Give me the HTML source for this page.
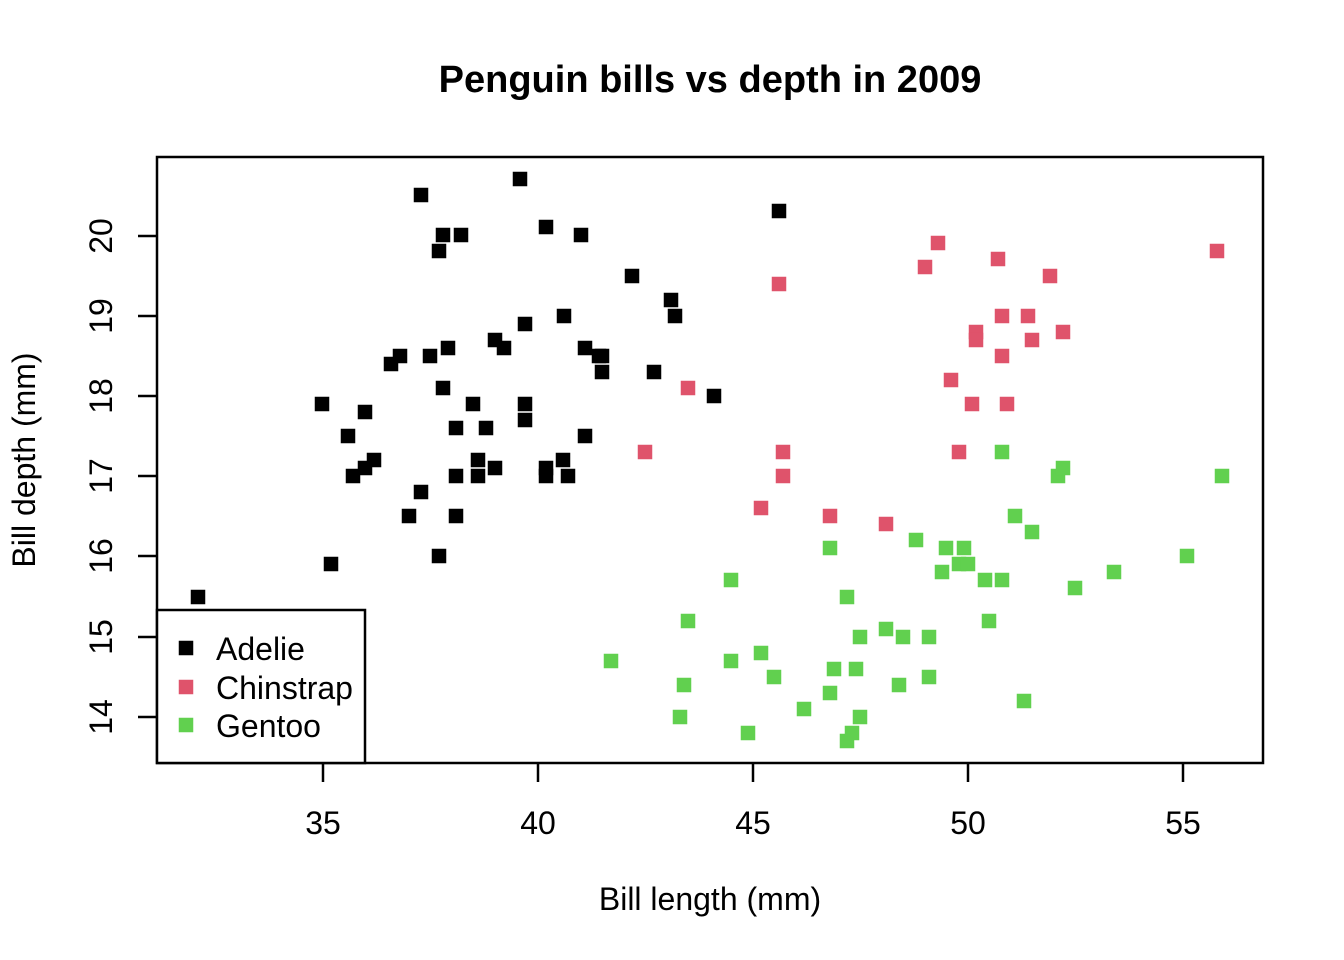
<!DOCTYPE html>
<html><head><meta charset="utf-8"><style>
html,body{margin:0;padding:0;background:#fff;}
svg{display:block;}
text{font-family:"Liberation Sans",Arial,sans-serif;fill:#000;}
</style></head><body>
<svg width="1344" height="960" viewBox="0 0 1344 960" xmlns="http://www.w3.org/2000/svg">
<rect width="1344" height="960" fill="#fff"/>
<text x="710" y="92" font-size="38" font-weight="bold" text-anchor="middle">Penguin bills vs depth in 2009</text>
<g fill="#000">
<rect x="190.75" y="589.75" width="14.5" height="14.5"/>
<rect x="323.75" y="556.75" width="14.5" height="14.5"/>
<rect x="314.75" y="396.75" width="14.5" height="14.5"/>
<rect x="340.75" y="428.75" width="14.5" height="14.5"/>
<rect x="345.75" y="468.75" width="14.5" height="14.5"/>
<rect x="357.75" y="460.75" width="14.5" height="14.5"/>
<rect x="366.75" y="452.75" width="14.5" height="14.5"/>
<rect x="357.75" y="404.75" width="14.5" height="14.5"/>
<rect x="383.75" y="356.75" width="14.5" height="14.5"/>
<rect x="392.75" y="348.75" width="14.5" height="14.5"/>
<rect x="401.75" y="508.75" width="14.5" height="14.5"/>
<rect x="413.75" y="484.75" width="14.5" height="14.5"/>
<rect x="413.75" y="187.75" width="14.5" height="14.5"/>
<rect x="422.75" y="348.75" width="14.5" height="14.5"/>
<rect x="431.75" y="548.75" width="14.5" height="14.5"/>
<rect x="431.75" y="243.75" width="14.5" height="14.5"/>
<rect x="435.75" y="227.75" width="14.5" height="14.5"/>
<rect x="435.75" y="380.75" width="14.5" height="14.5"/>
<rect x="440.75" y="340.75" width="14.5" height="14.5"/>
<rect x="448.75" y="508.75" width="14.5" height="14.5"/>
<rect x="448.75" y="420.75" width="14.5" height="14.5"/>
<rect x="448.75" y="468.75" width="14.5" height="14.5"/>
<rect x="453.75" y="227.75" width="14.5" height="14.5"/>
<rect x="465.75" y="396.75" width="14.5" height="14.5"/>
<rect x="470.75" y="452.75" width="14.5" height="14.5"/>
<rect x="470.75" y="468.75" width="14.5" height="14.5"/>
<rect x="478.75" y="420.75" width="14.5" height="14.5"/>
<rect x="487.75" y="460.75" width="14.5" height="14.5"/>
<rect x="487.75" y="332.75" width="14.5" height="14.5"/>
<rect x="496.75" y="340.75" width="14.5" height="14.5"/>
<rect x="517.75" y="316.75" width="14.5" height="14.5"/>
<rect x="517.75" y="396.75" width="14.5" height="14.5"/>
<rect x="517.75" y="412.75" width="14.5" height="14.5"/>
<rect x="512.75" y="171.75" width="14.5" height="14.5"/>
<rect x="538.75" y="219.75" width="14.5" height="14.5"/>
<rect x="538.75" y="460.75" width="14.5" height="14.5"/>
<rect x="538.75" y="468.75" width="14.5" height="14.5"/>
<rect x="556.75" y="308.75" width="14.5" height="14.5"/>
<rect x="555.75" y="452.75" width="14.5" height="14.5"/>
<rect x="560.75" y="468.75" width="14.5" height="14.5"/>
<rect x="573.75" y="227.75" width="14.5" height="14.5"/>
<rect x="577.75" y="340.75" width="14.5" height="14.5"/>
<rect x="577.75" y="428.75" width="14.5" height="14.5"/>
<rect x="591.75" y="348.75" width="14.5" height="14.5"/>
<rect x="594.75" y="348.75" width="14.5" height="14.5"/>
<rect x="594.75" y="364.75" width="14.5" height="14.5"/>
<rect x="624.75" y="268.75" width="14.5" height="14.5"/>
<rect x="646.75" y="364.75" width="14.5" height="14.5"/>
<rect x="663.75" y="292.75" width="14.5" height="14.5"/>
<rect x="667.75" y="308.75" width="14.5" height="14.5"/>
<rect x="706.75" y="388.75" width="14.5" height="14.5"/>
<rect x="771.75" y="203.75" width="14.5" height="14.5"/>
</g>
<g fill="#DF536B">
<rect x="637.75" y="444.75" width="14.5" height="14.5"/>
<rect x="680.75" y="380.75" width="14.5" height="14.5"/>
<rect x="753.75" y="500.75" width="14.5" height="14.5"/>
<rect x="771.75" y="276.75" width="14.5" height="14.5"/>
<rect x="775.75" y="444.75" width="14.5" height="14.5"/>
<rect x="775.75" y="468.75" width="14.5" height="14.5"/>
<rect x="822.75" y="508.75" width="14.5" height="14.5"/>
<rect x="878.75" y="516.75" width="14.5" height="14.5"/>
<rect x="917.75" y="259.75" width="14.5" height="14.5"/>
<rect x="930.75" y="235.75" width="14.5" height="14.5"/>
<rect x="943.75" y="372.75" width="14.5" height="14.5"/>
<rect x="951.75" y="444.75" width="14.5" height="14.5"/>
<rect x="964.75" y="396.75" width="14.5" height="14.5"/>
<rect x="968.75" y="324.75" width="14.5" height="14.5"/>
<rect x="968.75" y="332.75" width="14.5" height="14.5"/>
<rect x="990.75" y="251.75" width="14.5" height="14.5"/>
<rect x="994.75" y="308.75" width="14.5" height="14.5"/>
<rect x="994.75" y="348.75" width="14.5" height="14.5"/>
<rect x="999.75" y="396.75" width="14.5" height="14.5"/>
<rect x="1020.75" y="308.75" width="14.5" height="14.5"/>
<rect x="1024.75" y="332.75" width="14.5" height="14.5"/>
<rect x="1042.75" y="268.75" width="14.5" height="14.5"/>
<rect x="1055.75" y="324.75" width="14.5" height="14.5"/>
<rect x="1209.75" y="243.75" width="14.5" height="14.5"/>
</g>
<g fill="#61D04F">
<rect x="603.75" y="653.75" width="14.5" height="14.5"/>
<rect x="672.75" y="709.75" width="14.5" height="14.5"/>
<rect x="676.75" y="677.75" width="14.5" height="14.5"/>
<rect x="680.75" y="613.75" width="14.5" height="14.5"/>
<rect x="723.75" y="572.75" width="14.5" height="14.5"/>
<rect x="723.75" y="653.75" width="14.5" height="14.5"/>
<rect x="740.75" y="725.75" width="14.5" height="14.5"/>
<rect x="753.75" y="645.75" width="14.5" height="14.5"/>
<rect x="766.75" y="669.75" width="14.5" height="14.5"/>
<rect x="796.75" y="701.75" width="14.5" height="14.5"/>
<rect x="822.75" y="540.75" width="14.5" height="14.5"/>
<rect x="822.75" y="685.75" width="14.5" height="14.5"/>
<rect x="826.75" y="661.75" width="14.5" height="14.5"/>
<rect x="839.75" y="589.75" width="14.5" height="14.5"/>
<rect x="839.75" y="733.75" width="14.5" height="14.5"/>
<rect x="844.75" y="725.75" width="14.5" height="14.5"/>
<rect x="848.75" y="661.75" width="14.5" height="14.5"/>
<rect x="852.75" y="629.75" width="14.5" height="14.5"/>
<rect x="852.75" y="709.75" width="14.5" height="14.5"/>
<rect x="878.75" y="621.75" width="14.5" height="14.5"/>
<rect x="891.75" y="677.75" width="14.5" height="14.5"/>
<rect x="895.75" y="629.75" width="14.5" height="14.5"/>
<rect x="908.75" y="532.75" width="14.5" height="14.5"/>
<rect x="921.75" y="629.75" width="14.5" height="14.5"/>
<rect x="921.75" y="669.75" width="14.5" height="14.5"/>
<rect x="934.75" y="564.75" width="14.5" height="14.5"/>
<rect x="938.75" y="540.75" width="14.5" height="14.5"/>
<rect x="951.75" y="556.75" width="14.5" height="14.5"/>
<rect x="960.75" y="556.75" width="14.5" height="14.5"/>
<rect x="956.75" y="540.75" width="14.5" height="14.5"/>
<rect x="977.75" y="572.75" width="14.5" height="14.5"/>
<rect x="981.75" y="613.75" width="14.5" height="14.5"/>
<rect x="994.75" y="444.75" width="14.5" height="14.5"/>
<rect x="994.75" y="572.75" width="14.5" height="14.5"/>
<rect x="1007.75" y="508.75" width="14.5" height="14.5"/>
<rect x="1016.75" y="693.75" width="14.5" height="14.5"/>
<rect x="1024.75" y="524.75" width="14.5" height="14.5"/>
<rect x="1050.75" y="468.75" width="14.5" height="14.5"/>
<rect x="1055.75" y="460.75" width="14.5" height="14.5"/>
<rect x="1067.75" y="580.75" width="14.5" height="14.5"/>
<rect x="1106.75" y="564.75" width="14.5" height="14.5"/>
<rect x="1179.75" y="548.75" width="14.5" height="14.5"/>
<rect x="1214.75" y="468.75" width="14.5" height="14.5"/>
</g>
<rect x="157" y="157" width="1106" height="606" fill="none" stroke="#000" stroke-width="2.5"/>
<g stroke="#000" stroke-width="2.5">
<line x1="323" y1="763" x2="323" y2="782"/>
<line x1="538" y1="763" x2="538" y2="782"/>
<line x1="753" y1="763" x2="753" y2="782"/>
<line x1="968" y1="763" x2="968" y2="782"/>
<line x1="1183" y1="763" x2="1183" y2="782"/>
<line x1="138" y1="717" x2="157" y2="717"/>
<line x1="138" y1="637" x2="157" y2="637"/>
<line x1="138" y1="556" x2="157" y2="556"/>
<line x1="138" y1="476" x2="157" y2="476"/>
<line x1="138" y1="396" x2="157" y2="396"/>
<line x1="138" y1="316" x2="157" y2="316"/>
<line x1="138" y1="236" x2="157" y2="236"/>
</g>
<g font-size="32" text-anchor="middle">
<text x="323" y="834">35</text>
<text x="538" y="834">40</text>
<text x="753" y="834">45</text>
<text x="968" y="834">50</text>
<text x="1183" y="834">55</text>
<text transform="translate(112,717) rotate(-90)">14</text>
<text transform="translate(112,637) rotate(-90)">15</text>
<text transform="translate(112,556) rotate(-90)">16</text>
<text transform="translate(112,476) rotate(-90)">17</text>
<text transform="translate(112,396) rotate(-90)">18</text>
<text transform="translate(112,316) rotate(-90)">19</text>
<text transform="translate(112,236) rotate(-90)">20</text>
<text x="710" y="910">Bill length (mm)</text>
<text transform="translate(35,460) rotate(-90)">Bill depth (mm)</text>
</g>
<rect x="157" y="610" width="208" height="153" fill="#fff" stroke="#000" stroke-width="2.5"/>
<rect x="178.75" y="640.75" width="14.5" height="14.5" fill="#000"/>
<rect x="178.75" y="679.75" width="14.5" height="14.5" fill="#DF536B"/>
<rect x="178.75" y="717.75" width="14.5" height="14.5" fill="#61D04F"/>
<g font-size="32">
<text x="216" y="660">Adelie</text>
<text x="216" y="699">Chinstrap</text>
<text x="216" y="737">Gentoo</text>
</g>
</svg>
</body></html>
